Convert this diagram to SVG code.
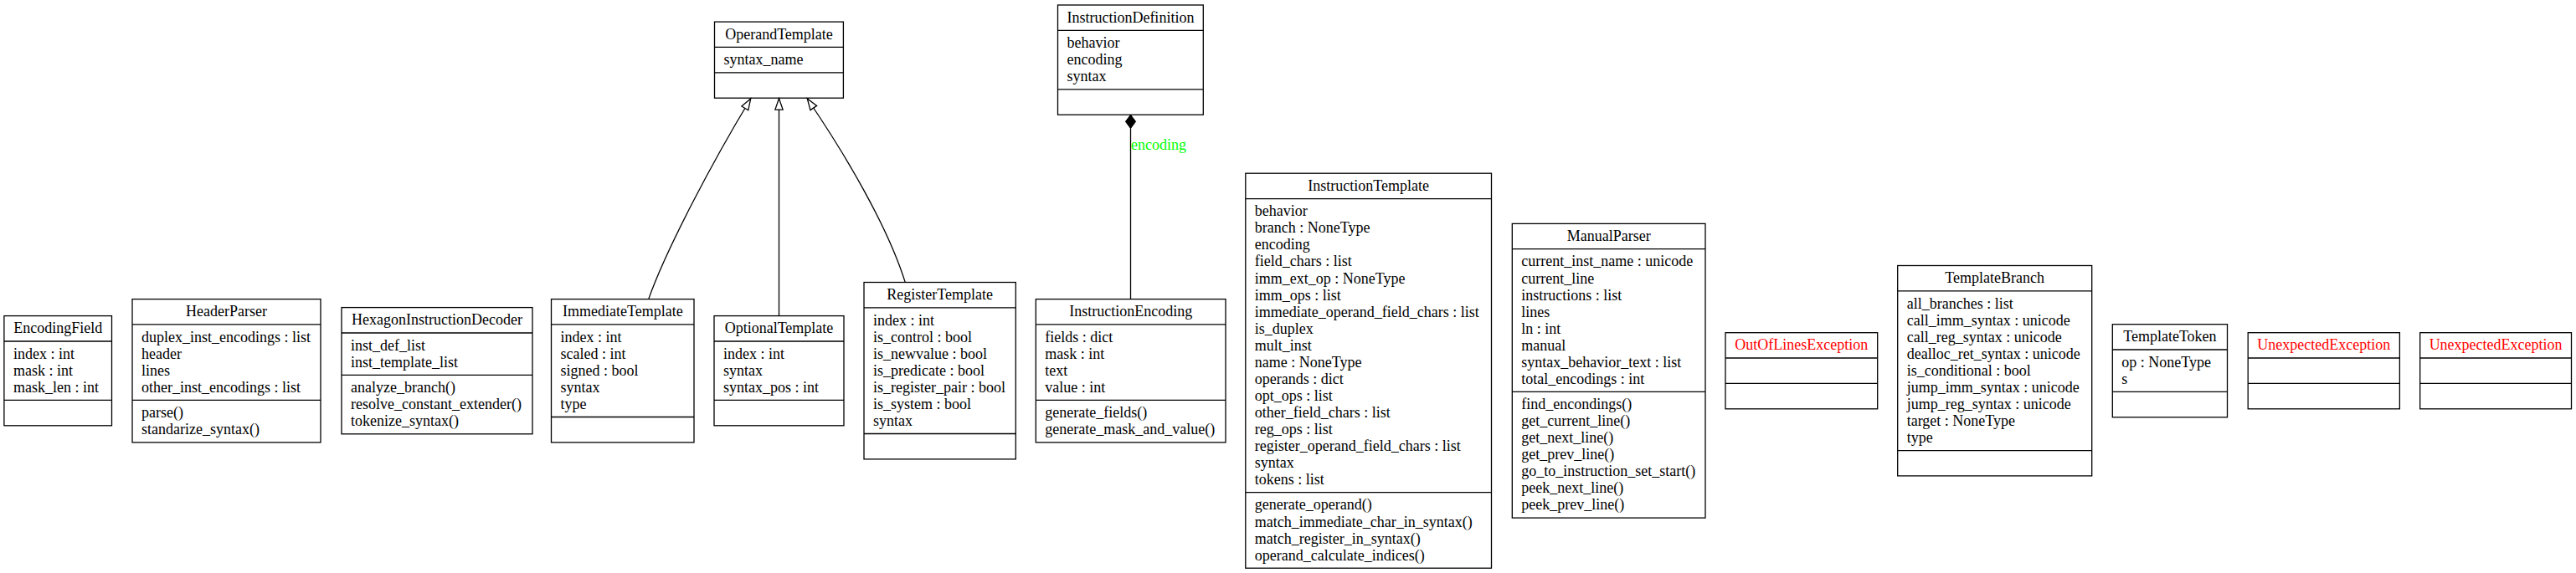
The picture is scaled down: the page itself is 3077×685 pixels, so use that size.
<svg xmlns="http://www.w3.org/2000/svg" width="3077" height="685" viewBox="0 0 3077 685">
<style>
.box{fill:none;stroke:#000;stroke-width:1.3}
.t{font-family:"Liberation Serif","Times New Roman",serif;font-size:18px;fill:#000}
.c{text-anchor:middle}
.red{fill:#ff0000}
.edge{fill:none;stroke:#000;stroke-width:1.3}
.lbl{font-family:"Liberation Serif","Times New Roman",serif;font-size:18px;fill:#00ff00}
</style>
<defs>
<marker id="inh" markerUnits="userSpaceOnUse" markerWidth="16" markerHeight="14" refX="13.3" refY="6" orient="auto" overflow="visible">
<path d="M0,1.35 L13.3,6 L0,10.65 Z" fill="#fff" stroke="#000" stroke-width="1.3"/>
</marker>
<marker id="dia" markerUnits="userSpaceOnUse" markerWidth="18" markerHeight="14" refX="0" refY="6.1" orient="auto" overflow="visible">
<path d="M0,6.1 L8.15,0 L16.3,6.1 L8.15,12.2 Z" fill="#000" stroke="#000" stroke-width="1"/>
</marker>
</defs>
<rect width="3077" height="685" fill="#fff"/>

<g id="connectors">
<path class="edge" d="M774.7,357.6 C795,300 850,195 896.7,118" marker-end="url(#inh)"/>
<path class="edge" d="M930.5,377.6 L930.5,117.8" marker-end="url(#inh)"/>
<path class="edge" d="M1081.3,337.6 C1060,270 1010,185 964.3,118" marker-end="url(#inh)"/>
<path class="edge" d="M1350.5,137.2 L1350.5,357.6" marker-start="url(#dia)"/>
<text class="lbl" x="1351" y="179.3">encoding</text>
</g>

<g id="EncodingField">
<rect class="box" x="4.9" y="377.6" width="128.6" height="131.2"/>
<path class="box" d="M4.9,408 H133.5 M4.9,478.4 H133.5"/>
<text class="t c" x="69.2" y="398.3">EncodingField</text>
<text class="t" x="15.9" y="428.7">index : int</text>
<text class="t" x="15.9" y="448.7">mask : int</text>
<text class="t" x="15.9" y="468.8">mask_len : int</text>
</g>

<g id="HeaderParser">
<rect class="box" x="158" y="357.6" width="225" height="171.3"/>
<path class="box" d="M158,387.9 H383 M158,478.4 H383"/>
<text class="t c" x="270.5" y="378.3">HeaderParser</text>
<text class="t" x="169" y="408.6">duplex_inst_encodings : list</text>
<text class="t" x="169" y="428.7">header</text>
<text class="t" x="169" y="448.7">lines</text>
<text class="t" x="169" y="468.8">other_inst_encodings : list</text>
<text class="t" x="169" y="499.1">parse()</text>
<text class="t" x="169" y="519.2">standarize_syntax()</text>
</g>

<g id="HexagonInstructionDecoder">
<rect class="box" x="408" y="367.6" width="228" height="151.2"/>
<path class="box" d="M408,398 H636 M408,448.4 H636"/>
<text class="t c" x="522" y="388.3">HexagonInstructionDecoder</text>
<text class="t" x="419" y="418.7">inst_def_list</text>
<text class="t" x="419" y="438.7">inst_template_list</text>
<text class="t" x="419" y="469.1">analyze_branch()</text>
<text class="t" x="419" y="489.1">resolve_constant_extender()</text>
<text class="t" x="419" y="509.2">tokenize_syntax()</text>
</g>

<g id="ImmediateTemplate">
<rect class="box" x="658.5" y="357.6" width="170.5" height="171.3"/>
<path class="box" d="M658.5,387.9 H829 M658.5,498.5 H829"/>
<text class="t c" x="743.8" y="378.3">ImmediateTemplate</text>
<text class="t" x="669.5" y="408.6">index : int</text>
<text class="t" x="669.5" y="428.7">scaled : int</text>
<text class="t" x="669.5" y="448.7">signed : bool</text>
<text class="t" x="669.5" y="468.8">syntax</text>
<text class="t" x="669.5" y="488.8">type</text>
</g>

<g id="OptionalTemplate">
<rect class="box" x="853" y="377.6" width="155" height="131.2"/>
<path class="box" d="M853,408 H1008 M853,478.4 H1008"/>
<text class="t c" x="930.5" y="398.3">OptionalTemplate</text>
<text class="t" x="864" y="428.7">index : int</text>
<text class="t" x="864" y="448.7">syntax</text>
<text class="t" x="864" y="468.8">syntax_pos : int</text>
</g>

<g id="RegisterTemplate">
<rect class="box" x="1032" y="337.5" width="181.3" height="211.4"/>
<path class="box" d="M1032,367.9 H1213.3 M1032,518.5 H1213.3"/>
<text class="t c" x="1122.7" y="358.2">RegisterTemplate</text>
<text class="t" x="1043" y="388.6">index : int</text>
<text class="t" x="1043" y="408.6">is_control : bool</text>
<text class="t" x="1043" y="428.7">is_newvalue : bool</text>
<text class="t" x="1043" y="448.7">is_predicate : bool</text>
<text class="t" x="1043" y="468.8">is_register_pair : bool</text>
<text class="t" x="1043" y="488.8">is_system : bool</text>
<text class="t" x="1043" y="508.9">syntax</text>
</g>

<g id="OperandTemplate">
<rect class="box" x="853.5" y="26.1" width="153.9" height="91.1"/>
<path class="box" d="M853.5,56.4 H1007.4 M853.5,86.8 H1007.4"/>
<text class="t c" x="930.5" y="46.8">OperandTemplate</text>
<text class="t" x="864.5" y="77.1">syntax_name</text>
</g>

<g id="InstructionDefinition">
<rect class="box" x="1263.5" y="6" width="173.8" height="131.2"/>
<path class="box" d="M1263.5,36.4 H1437.3 M1263.5,106.8 H1437.3"/>
<text class="t c" x="1350.4" y="26.7">InstructionDefinition</text>
<text class="t" x="1274.5" y="57.1">behavior</text>
<text class="t" x="1274.5" y="77.1">encoding</text>
<text class="t" x="1274.5" y="97.2">syntax</text>
</g>

<g id="InstructionEncoding">
<rect class="box" x="1237.3" y="357.6" width="226.7" height="171.3"/>
<path class="box" d="M1237.3,387.9 H1464 M1237.3,478.4 H1464"/>
<text class="t c" x="1350.65" y="378.3">InstructionEncoding</text>
<text class="t" x="1248.3" y="408.6">fields : dict</text>
<text class="t" x="1248.3" y="428.7">mask : int</text>
<text class="t" x="1248.3" y="448.7">text</text>
<text class="t" x="1248.3" y="468.8">value : int</text>
<text class="t" x="1248.3" y="499.1">generate_fields()</text>
<text class="t" x="1248.3" y="519.2">generate_mask_and_value()</text>
</g>

<g id="InstructionTemplate">
<rect class="box" x="1487.8" y="207.2" width="293.7" height="472"/>
<path class="box" d="M1487.8,237.6 H1781.5 M1487.8,588.7 H1781.5"/>
<text class="t c" x="1634.65" y="227.9">InstructionTemplate</text>
<text class="t" x="1498.8" y="258.3">behavior</text>
<text class="t" x="1498.8" y="278.3">branch : NoneType</text>
<text class="t" x="1498.8" y="298.4">encoding</text>
<text class="t" x="1498.8" y="318.4">field_chars : list</text>
<text class="t" x="1498.8" y="338.5">imm_ext_op : NoneType</text>
<text class="t" x="1498.8" y="358.5">imm_ops : list</text>
<text class="t" x="1498.8" y="378.6">immediate_operand_field_chars : list</text>
<text class="t" x="1498.8" y="398.6">is_duplex</text>
<text class="t" x="1498.8" y="418.7">mult_inst</text>
<text class="t" x="1498.8" y="438.7">name : NoneType</text>
<text class="t" x="1498.8" y="458.8">operands : dict</text>
<text class="t" x="1498.8" y="478.8">opt_ops : list</text>
<text class="t" x="1498.8" y="498.9">other_field_chars : list</text>
<text class="t" x="1498.8" y="518.9">reg_ops : list</text>
<text class="t" x="1498.8" y="539">register_operand_field_chars : list</text>
<text class="t" x="1498.8" y="559">syntax</text>
<text class="t" x="1498.8" y="579.1">tokens : list</text>
<text class="t" x="1498.8" y="609.4">generate_operand()</text>
<text class="t" x="1498.8" y="629.5">match_immediate_char_in_syntax()</text>
<text class="t" x="1498.8" y="649.5">match_register_in_syntax()</text>
<text class="t" x="1498.8" y="669.6">operand_calculate_indices()</text>
</g>

<g id="ManualParser">
<rect class="box" x="1806.3" y="267.4" width="230.7" height="351.7"/>
<path class="box" d="M1806.3,297.7 H2037 M1806.3,468.4 H2037"/>
<text class="t c" x="1921.65" y="288.1">ManualParser</text>
<text class="t" x="1817.3" y="318.4">current_inst_name : unicode</text>
<text class="t" x="1817.3" y="338.5">current_line</text>
<text class="t" x="1817.3" y="358.5">instructions : list</text>
<text class="t" x="1817.3" y="378.6">lines</text>
<text class="t" x="1817.3" y="398.6">ln : int</text>
<text class="t" x="1817.3" y="418.7">manual</text>
<text class="t" x="1817.3" y="438.7">syntax_behavior_text : list</text>
<text class="t" x="1817.3" y="458.8">total_encodings : int</text>
<text class="t" x="1817.3" y="489.1">find_encondings()</text>
<text class="t" x="1817.3" y="509.2">get_current_line()</text>
<text class="t" x="1817.3" y="529.2">get_next_line()</text>
<text class="t" x="1817.3" y="549.3">get_prev_line()</text>
<text class="t" x="1817.3" y="569.3">go_to_instruction_set_start()</text>
<text class="t" x="1817.3" y="589.4">peek_next_line()</text>
<text class="t" x="1817.3" y="609.4">peek_prev_line()</text>
</g>

<g id="OutOfLinesException">
<rect class="box" x="2061" y="397.7" width="181.7" height="91.1"/>
<path class="box" d="M2061,428 H2242.7 M2061,458.4 H2242.7"/>
<text class="t c red" x="2151.85" y="418.4">OutOfLinesException</text>
</g>

<g id="TemplateBranch">
<rect class="box" x="2266.7" y="317.5" width="232" height="251.4"/>
<path class="box" d="M2266.7,347.8 H2498.7 M2266.7,538.6 H2498.7"/>
<text class="t c" x="2382.7" y="338.2">TemplateBranch</text>
<text class="t" x="2277.7" y="368.5">all_branches : list</text>
<text class="t" x="2277.7" y="388.6">call_imm_syntax : unicode</text>
<text class="t" x="2277.7" y="408.6">call_reg_syntax : unicode</text>
<text class="t" x="2277.7" y="428.7">dealloc_ret_syntax : unicode</text>
<text class="t" x="2277.7" y="448.7">is_conditional : bool</text>
<text class="t" x="2277.7" y="468.8">jump_imm_syntax : unicode</text>
<text class="t" x="2277.7" y="488.8">jump_reg_syntax : unicode</text>
<text class="t" x="2277.7" y="508.9">target : NoneType</text>
<text class="t" x="2277.7" y="528.9">type</text>
</g>

<g id="TemplateToken">
<rect class="box" x="2523.3" y="387.7" width="137.2" height="111.1"/>
<path class="box" d="M2523.3,418 H2660.5 M2523.3,468.4 H2660.5"/>
<text class="t c" x="2591.9" y="408.4">TemplateToken</text>
<text class="t" x="2534.3" y="438.7">op : NoneType</text>
<text class="t" x="2534.3" y="458.8">s</text>
</g>

<g id="UnexpectedException1">
<rect class="box" x="2685.2" y="397.7" width="181.2" height="91.1"/>
<path class="box" d="M2685.2,428 H2866.4 M2685.2,458.4 H2866.4"/>
<text class="t c red" x="2775.8" y="418.4">UnexpectedException</text>
</g>

<g id="UnexpectedException2">
<rect class="box" x="2890.7" y="397.7" width="180.8" height="91.1"/>
<path class="box" d="M2890.7,428 H3071.5 M2890.7,458.4 H3071.5"/>
<text class="t c red" x="2981.1" y="418.4">UnexpectedException</text>
</g>
</svg>
